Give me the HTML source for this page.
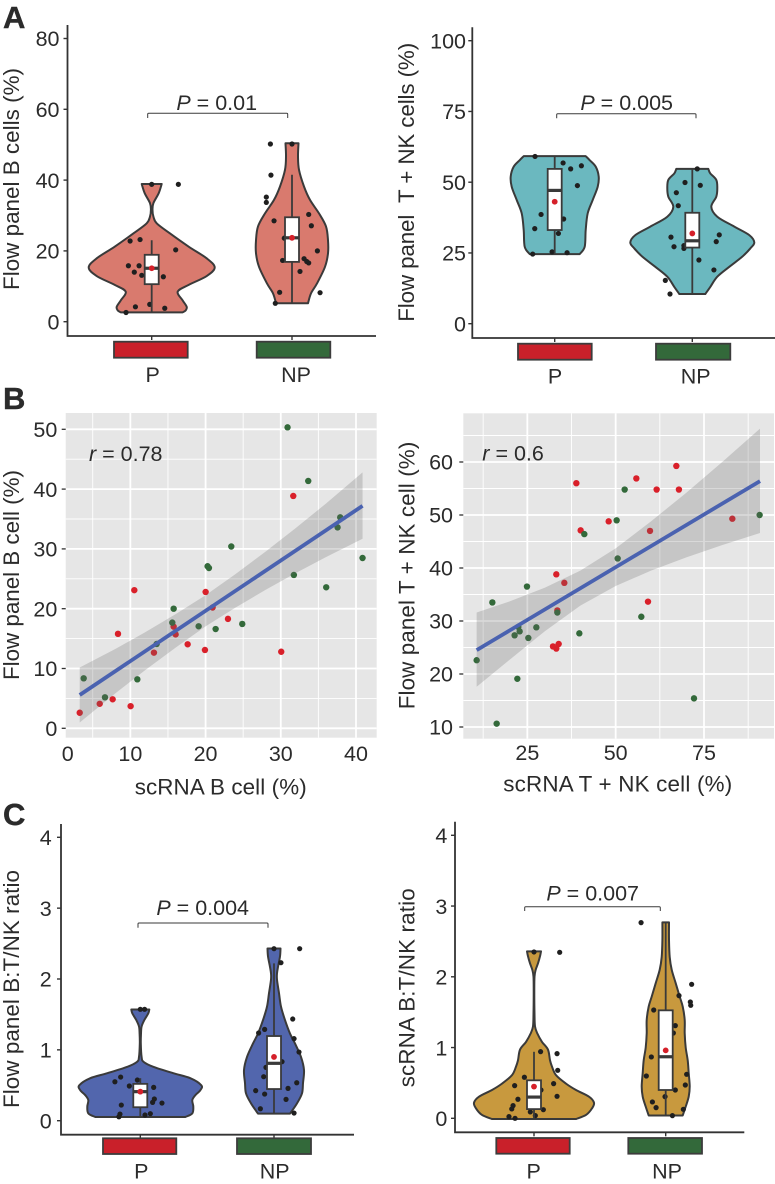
<!DOCTYPE html>
<html lang="en">
<head>
<meta charset="utf-8">
<title>Flow panel and scRNA comparison</title>
<style>
html,body{margin:0;padding:0;background:#fff}
svg{display:block;font-family:"Liberation Sans",Arial,sans-serif;fill:#2b2b2b}
text{fill:#2b2b2b}
.t{font-size:21.5px}
.tt{font-size:22.4px}
.letter{font-size:31px;font-weight:bold;fill:#2b2b2b;stroke:#2b2b2b;stroke-width:.4}
.br{fill:none;stroke:#3a3a3a;stroke-width:1}
.cb{stroke:#3c3c3c;stroke-width:1.8}
</style>
</head>
<body>
<svg id="figure" xmlns="http://www.w3.org/2000/svg" width="775" height="1184" viewBox="0 0 775 1184">
<rect x="0" y="0" width="775" height="1184" fill="#fff"/>
<g id="plots"></g>

<text class="letter" x="3" y="28">A</text>
<text class="letter" x="3" y="409">B</text>
<text class="letter" x="3" y="825">C</text>

<!-- A left -->
<text class="tt" transform="translate(19,179) rotate(-90)" text-anchor="middle" textLength="222">Flow panel B cells (%)</text>
<path class="br" d="M147.7 118V114.3Q147.7 113.3 148.7 113.3H286.7Q287.7 113.3 287.7 114.3V118"/>
<text class="t" x="216.7" y="110" text-anchor="middle"><tspan font-style="italic">P</tspan> = 0.01</text>
<rect class="cb" x="114" y="341.7" width="73.7" height="16" fill="#c9202a"/>
<rect class="cb" x="256.7" y="341.7" width="73.6" height="16" fill="#33693a"/>
<text class="t" x="152.7" y="382" text-anchor="middle">P</text>
<text class="t" x="296" y="382" text-anchor="middle">NP</text>

<!-- A right -->
<text class="tt" transform="translate(414,182.3) rotate(-90)" text-anchor="middle" textLength="279" xml:space="preserve">Flow panel  T + NK cells (%)</text>
<path class="br" d="M556.7 118.3V114.7Q556.7 113.7 557.7 113.7H695Q696 113.7 696 114.7V118.3"/>
<text class="t" x="626.7" y="110" text-anchor="middle"><tspan font-style="italic">P</tspan> = 0.005</text>
<rect class="cb" x="518" y="343.7" width="73.7" height="16" fill="#c9202a"/>
<rect class="cb" x="656" y="343.7" width="74.3" height="16" fill="#33693a"/>
<text class="t" x="555" y="383.3" text-anchor="middle">P</text>
<text class="t" x="695.7" y="383.3" text-anchor="middle">NP</text>

<!-- B left -->
<text class="tt" transform="translate(19,575) rotate(-90)" text-anchor="middle" textLength="210">Flow panel B cell (%)</text>
<text class="tt" x="220.7" y="794.3" text-anchor="middle" textLength="172">scRNA B cell (%)</text>
<text class="t" x="89" y="461"><tspan font-style="italic">r</tspan> = 0.78</text>
<text class="t" x="67.7" y="761" text-anchor="middle">0</text>

<!-- B right -->
<text class="tt" transform="translate(414.3,575.5) rotate(-90)" text-anchor="middle" textLength="267.6">Flow panel T + NK cell (%)</text>
<text class="tt" x="617.7" y="791.7" text-anchor="middle" textLength="229">scRNA T + NK cell (%)</text>
<text class="t" x="482.3" y="460.7"><tspan font-style="italic">r</tspan> = 0.6</text>

<!-- C left -->
<text class="tt" transform="translate(19,989) rotate(-90)" text-anchor="middle" textLength="238">Flow panel B:T/NK ratio</text>
<path class="br" d="M138 927.7V924Q138 923 139 923H267Q268 923 268 924V927.7"/>
<text class="t" x="202.7" y="915" text-anchor="middle"><tspan font-style="italic">P</tspan> = 0.004</text>
<rect class="cb" x="103" y="1138.3" width="73.3" height="15.7" fill="#c9202a"/>
<rect class="cb" x="237" y="1138.3" width="74" height="15.7" fill="#33693a"/>
<text class="t" x="141.3" y="1178.7" text-anchor="middle">P</text>
<text class="t" x="274.7" y="1178.7" text-anchor="middle">NP</text>

<!-- C right -->
<text class="tt" transform="translate(414.3,987.8) rotate(-90)" text-anchor="middle" textLength="199">scRNA B:T/NK ratio</text>
<path class="br" d="M524.7 911V907.7Q524.7 906.7 525.7 906.7H659.3Q660.3 906.7 660.3 907.7V911"/>
<text class="t" x="592.7" y="900.7" text-anchor="middle"><tspan font-style="italic">P</tspan> = 0.007</text>
<rect class="cb" x="496.3" y="1138" width="73.4" height="15.7" fill="#c9202a"/>
<rect class="cb" x="628.3" y="1138" width="73.7" height="15.7" fill="#33693a"/>
<text class="t" x="533.7" y="1178.3" text-anchor="middle">P</text>
<text class="t" x="667" y="1178.3" text-anchor="middle">NP</text>
</svg>

<script>
/* ---------- panel A left: violin profiles are [value, density] ---------- */
const a1Ticks = [0, 20, 40, 60, 80];
const a1PProfile = [[2.64,31],[3.2,34],[4.2,35],[6,31],[8.5,26],[10.4,37],[12.9,55],[15.3,63],[17.9,55],[21.2,37],[25,18],[27.8,5],[29.7,1.7],[31.6,0.8],[33.5,1.7],[36.3,7],[38.9,10]];
const a1NPProfile = [[5.2,16],[8,19],[10.8,25],[15.5,33],[19.3,36],[23,36],[26.9,34],[30.6,27],[34.4,18],[38.2,12],[42.9,7],[46.7,6],[50.4,6.5]];
const a1PBox = [2.6, 10.6, 15.1, 18.9, 23, 15.1];
const a1NPBox = [5.2, 16.9, 23.7, 29.5, 41.5, 23.7];
const a1PPoints = [[-0.183,2.6],[-0.116,4.2],[-0.014,4.9],[0.093,3.8],[-0.09,15.8],[-0.166,15.8],[-0.124,14],[-0.071,13.1],[0.083,12.7],[0.171,20.3],[-0.154,22.8],[-0.083,23.2],[0,38.8],[0.19,38.8]];
const a1NPPoints = [[-0.154,50.2],[0,50.2],[-0.15,41.4],[-0.183,35.2],[-0.183,33.7],[-0.128,28.5],[0.119,30.3],[0.138,27.1],[-0.055,23.6],[0.181,20],[-0.067,17.3],[0.086,17.8],[0.105,17],[0.119,16.6],[0.057,14.2],[-0.088,8.3],[0.2,8.2],[-0.119,5.2]];

/* ---------- panel A right ---------- */
const a2Ticks = [0, 25, 50, 75, 100];
const a2PProfile = [[24.6,25],[27.2,30],[33.1,31],[39,33],[43.7,38],[48.4,43],[52,44],[55.5,41],[57.8,35],[59.2,31]];
const a2NPProfile = [[10.5,13],[13,18],[16.6,25],[20.1,37],[23.7,50],[26.6,58],[28.7,62],[31.3,57],[34.3,42],[37.8,25],[41.3,19],[44.9,24],[47.8,25],[50.8,24],[53.1,18],[54.7,16]];
const a2PBox = [24.6, 33.1, 47.1, 54.7, 59.2, 43.1];
const a2NPBox = [10.5, 26.9, 29.3, 39.2, 54.7, 31.9];
const a2PPoints = [[-0.143,59.1],[0.061,56.8],[0.116,54.7],[0.194,55.8],[0.165,48.8],[-0.099,38.6],[0.065,37],[-0.145,33.6],[0.027,31.9],[-0.019,25.4],[-0.16,24.6],[0.09,25.1]];
const a2NPPoints = [[0.036,54.7],[-0.053,49.9],[0.058,48.9],[-0.116,46.3],[-0.102,41.7],[-0.155,30.6],[0.196,31.4],[0.174,29],[-0.133,27.2],[-0.061,27.6],[-0.061,26.6],[0.048,22.5],[0.157,19],[-0.196,15.3],[-0.162,10.5]];

/* ---------- panel B left ---------- */
const b1XTicks = [10, 20, 30, 40];
const b1XMinor = [5, 15, 25, 35];
const b1YTicks = [0, 10, 20, 30, 40, 50];
const b1YMinor = [5, 15, 25, 35, 45];
const b1Red = [[3.27,2.6],[5.93,4.1],[7.65,4.85],[10.04,3.7],[8.36,15.8],[10.53,23.1],[13.14,12.65],[15.76,17],[16.02,15.7],[17.62,14.05],[19.92,13.1],[20.01,22.8],[20.94,20.2],[22.98,18.3],[30.06,12.8],[31.66,38.85]];
const b1Green = [[3.8,8.36],[6.63,5.18],[10.93,8.19],[13.5,14.1],[15.58,17.67],[15.76,20],[19.08,17.06],[21.34,16.6],[20.27,27.1],[20.45,26.8],[23.42,30.4],[24.88,17.45],[30.9,50.33],[31.74,25.64],[33.65,41.36],[36.04,23.58],[37.55,33.6],[37.9,35.28],[40.87,28.48]];
const b1Fit = [[3.27,5.57],[40.87,37.2]];
const b1BandX = [3.27, 8, 12, 16, 20, 24, 28, 32, 36, 40.87];
const b1BandLow = [0.97, 5.85, 9.74, 13.48, 17.04, 20.2, 23.17, 25.96, 28.63, 31.7];
const b1BandHigh = [10.17, 13.25, 16.08, 19.08, 22.24, 25.8, 29.57, 33.5, 37.57, 42.8];

/* ---------- panel B right ---------- */
const b2XTicks = [25, 50, 75];
const b2XMinor = [12.5, 37.5, 62.5, 87.5];
const b2YTicks = [10, 20, 30, 40, 50, 60];
const b2YMinor = [15, 25, 35, 45, 55, 65];
const b2Red = [[67.17,59.25],[55.85,56.9],[61.6,54.8],[67.9,54.8],[38.87,56],[48.02,48.8],[40.09,47.1],[83.02,49.3],[59.72,47],[33.2,38.8],[35.47,37.2],[59.15,33.65],[33.49,32],[32.26,25.2],[33.87,25.66],[33.2,24.8]];
const b2Green = [[52.55,54.8],[50.28,49],[41.13,46.4],[90.75,50],[50.57,41.8],[24.9,36.5],[15.1,33.5],[33.49,31.6],[57.26,30.8],[27.55,28.8],[21.4,27.3],[22.83,28.05],[22.45,28.9],[25.28,26.8],[39.72,27.67],[10.66,22.6],[22.17,19.1],[72.17,15.4],[16.32,10.63]];
const b2Fit = [[10.66,24.5],[90.85,56.4]];
const b2BandX = [10.66, 20, 30, 40, 50, 60, 70, 80, 90.85];
const b2BandLow = [17.6, 22.7, 28.1, 32.9, 36.6, 39.5, 42, 44.3, 46.6];
const b2BandHigh = [31.6, 33.7, 36.3, 39.5, 43.7, 48.8, 54.2, 59.9, 66.3];

/* ---------- panel C left ---------- */
const c1Ticks = [0, 1, 2, 3, 4];
const c1PProfile = [[0.052,45],[0.104,52],[0.198,53],[0.29,52],[0.36,55],[0.43,60],[0.5,61],[0.6,50],[0.67,33],[0.76,13],[0.83,3.3],[0.9,1.3],[1.09,0.5],[1.23,0.7],[1.33,1.3],[1.42,4],[1.515,8],[1.57,9]];
const c1NPProfile = [[0.1,16],[0.245,23],[0.386,28],[0.53,29],[0.715,30],[0.9,27],[1.09,21],[1.23,16],[1.42,11],[1.61,7],[1.8,5],[1.99,3],[2.08,3],[2.17,4],[2.32,6],[2.43,6.5]];
const c1PBox = [0.05, 0.19, 0.41, 0.52, 0.6, 0.41];
const c1NPBox = [0.1, 0.447, 0.81, 1.195, 2.22, 0.9];
const c1PPoints = [[0,1.572],[0.032,1.572],[-0.147,0.616],[-0.19,0.55],[-0.082,0.49],[-0.022,0.574],[0.1,0.47],[0.105,0.306],[0.092,0.259],[0.162,0.249],[-0.142,0.221],[-0.152,0.094],[-0.16,0.056],[0.035,0.08],[0.075,0.099]];
const c1NPPoints = [[0,2.428],[0.192,2.428],[0.052,2.23],[0.14,1.435],[-0.07,1.289],[-0.115,1.238],[0.15,1.158],[0.187,0.969],[0.06,0.833],[-0.06,0.753],[-0.077,0.621],[0.17,0.536],[0.105,0.456],[-0.137,0.424],[-0.07,0.376],[0.09,0.301],[-0.102,0.169],[0.15,0.108]];

/* ---------- panel C right ---------- */
const c2Ticks = [0, 1, 2, 3, 4];
const c2PProfile = [[-0.01,42],[0.047,52],[0.14,58],[0.22,60],[0.306,55],[0.4,42],[0.49,32],[0.61,22],[0.73,18],[0.82,16],[0.97,14],[1.08,8],[1.2,3.3],[1.3,1],[1.48,0.5],[1.77,0.3],[2,0.5],[2.1,1.7],[2.19,4],[2.29,6],[2.36,7]];
const c2NPProfile = [[0.04,17],[0.165,20],[0.306,23],[0.45,24],[0.64,23],[0.82,22],[1,20],[1.2,19],[1.39,19],[1.58,17],[1.72,14],[1.91,10],[2.1,6],[2.28,4],[2.52,3.3],[2.77,3.3]];
const c2PBox = [0, 0.13, 0.3, 0.537, 0.94, 0.448];
const c2NPBox = [0.04, 0.4, 0.87, 1.526, 2.77, 0.96];
const c2PPoints = [[0,2.351],[0.195,2.346],[0.05,0.942],[0.175,0.914],[0.18,0.678],[-0.073,0.58],[-0.147,0.462],[0.149,0.49],[0.053,0.4],[0.175,0.311],[-0.122,0.269],[-0.159,0.179],[-0.169,0.132],[0.071,0.122],[-0.028,0.09],[0.01,0.038],[-0.19,0.024],[-0.144,0]];
const c2NPPoints = [[-0.187,2.766],[0.197,1.894],[0.187,1.644],[0.19,1.597],[0.101,1.734],[-0.091,1.531],[0.073,1.31],[0.058,1.206],[-0.109,0.867],[-0.147,0.598],[0.159,0.622],[0.149,0.471],[0.073,0.4],[-0.005,0.306],[-0.101,0.231],[-0.073,0.151],[0.134,0.127],[0.051,0.038]];

/* ---------- drawing ---------- */
const NS = 'http://www.w3.org/2000/svg';
const root = document.getElementById('plots');
const INK = '#3a3a3a';

function mk(tag, parent, attrs) {
  const el = document.createElementNS(NS, tag);
  for (const k in attrs) el.setAttribute(k, attrs[k]);
  parent.appendChild(el);
  return el;
}
function linear(d0, d1, r0, r1) {
  return v => r0 + (v - d0) * (r1 - r0) / (d1 - d0);
}
function smooth(pts) {
  let d = '';
  for (let i = 0; i < pts.length - 1; i++) {
    const p0 = pts[Math.max(i - 1, 0)], p1 = pts[i], p2 = pts[i + 1], p3 = pts[Math.min(i + 2, pts.length - 1)];
    const c1x = p1[0] + (p2[0] - p0[0]) / 6, c1y = p1[1] + (p2[1] - p0[1]) / 6;
    const c2x = p2[0] - (p3[0] - p1[0]) / 6, c2y = p2[1] - (p3[1] - p1[1]) / 6;
    d += 'C' + c1x.toFixed(2) + ' ' + c1y.toFixed(2) + ' ' + c2x.toFixed(2) + ' ' + c2y.toFixed(2) + ' ' + p2[0].toFixed(2) + ' ' + p2[1].toFixed(2);
  }
  return d;
}

function drawViolinGroup(g, prefix, cx, unit, y, profile, box, points, fill) {
  const right = profile.map(p => [cx + p[1], y(p[0])]);
  const left = profile.map(p => [cx - p[1], y(p[0])]).reverse();
  const d = 'M' + right[0][0].toFixed(2) + ' ' + right[0][1].toFixed(2) + smooth(right) +
            'L' + left[0][0].toFixed(2) + ' ' + left[0][1].toFixed(2) + smooth(left) + 'Z';
  const violin = mk('path', g, {d: d, fill: fill, stroke: INK, 'stroke-width': 2, 'stroke-linejoin': 'round'});
  
  

  points.forEach(p => {
    const dot = mk('circle', g, {cx: cx + p[0] * unit, cy: y(p[1]), r: 2.6, fill: '#1f1f1f'});
    
    
  });

  const whisker = mk('line', g, {x1: cx, x2: cx, y1: y(box[0]), y2: y(box[4]), stroke: INK, 'stroke-width': 1.8});
  
  

  const boxRect = mk('rect', g, {x: cx - 7, width: 14, y: y(box[3]), height: y(box[1]) - y(box[3]), fill: '#fff', stroke: INK, 'stroke-width': 1.8});
  
  

  const median = mk('line', g, {x1: cx - 7, x2: cx + 7, y1: y(box[2]), y2: y(box[2]), stroke: INK, 'stroke-width': 3.2});
  
  

  const mean = mk('circle', g, {cx: cx, cy: y(box[5]), r: 2.9, fill: '#d5202a'});
  
  
}

function drawViolinPanel(o) {
  const g = mk('g', root, {});
  
  
  const y = linear(o.yD0, o.yD1, o.yR0, o.yR1);
  const unit = o.xNP - o.xP;

  const yAxis = mk('path', g, {d: 'M' + o.axisX + ' ' + o.axisTop + 'V' + o.axisBottom + 'H' + o.axisRight, fill: 'none', stroke: '#333', 'stroke-width': 1.8});
  
  

  o.ticks.forEach(t => {
    const tick = mk('line', g, {x1: o.axisX - 4, x2: o.axisX, y1: y(t), y2: y(t), stroke: '#333', 'stroke-width': 1.4});
    
    
    const label = mk('text', g, {x: o.labelRight, y: y(t) + 7.7, 'text-anchor': 'end', class: 't'});
    label.textContent = String(t);
    
    
  });
  [o.xP, o.xNP].forEach(x => {
    const tick = mk('line', g, {x1: x, x2: x, y1: o.axisBottom, y2: o.axisBottom + 4, stroke: '#333', 'stroke-width': 1.4});
    
    
  });
  drawViolinGroup(g, o.name + '-p', o.xP, unit, y, o.pProfile, o.pBox, o.pPoints, o.fill);
  drawViolinGroup(g, o.name + '-np', o.xNP, unit, y, o.npProfile, o.npBox, o.npPoints, o.fill);
}

function drawScatterPanel(o) {
  const g = mk('g', root, {});
  
  
  const x = linear(o.xD0, o.xD1, o.xR0, o.xR1);
  const y = linear(o.yD0, o.yD1, o.yR0, o.yR1);

  const bg = mk('rect', g, {x: o.left, y: o.top, width: o.right - o.left, height: o.bottom - o.top, fill: '#e6e6e6'});
  
  

  o.xMinor.forEach(v => {
    const line = mk('line', g, {x1: x(v), x2: x(v), y1: o.top, y2: o.bottom, stroke: '#fff', 'stroke-width': 0.9});
    
    
  });
  o.yMinor.forEach(v => {
    const line = mk('line', g, {x1: o.left, x2: o.right, y1: y(v), y2: y(v), stroke: '#fff', 'stroke-width': 0.9});
    
    
  });
  o.xTicks.forEach(v => {
    const line = mk('line', g, {x1: x(v), x2: x(v), y1: o.top, y2: o.bottom, stroke: '#fff', 'stroke-width': 1.8});
    
    
    const label = mk('text', g, {x: x(v), y: o.xLabelY, 'text-anchor': 'middle', class: 't'});
    label.textContent = String(v);
    
    
  });
  o.yTicks.forEach(v => {
    const line = mk('line', g, {x1: o.left, x2: o.right, y1: y(v), y2: y(v), stroke: '#fff', 'stroke-width': 1.8});
    
    
    const tick = mk('line', g, {x1: o.left - 4, x2: o.left, y1: y(v), y2: y(v), stroke: '#333', 'stroke-width': 1.3});
    
    
    const label = mk('text', g, {x: o.labelRight, y: y(v) + 7.7, 'text-anchor': 'end', class: 't'});
    label.textContent = String(v);
    
    
  });

  o.red.forEach(p => {
    const dot = mk('circle', g, {cx: x(p[0]), cy: y(p[1]), r: 3.2, fill: '#d9202a'});
    
    
  });
  o.green.forEach(p => {
    const dot = mk('circle', g, {cx: x(p[0]), cy: y(p[1]), r: 3.2, fill: '#33693a'});
    
    
  });

  let d = '';
  o.bandX.forEach((v, i) => { d += (i ? 'L' : 'M') + x(v).toFixed(2) + ' ' + y(o.bandHigh[i]).toFixed(2); });
  for (let i = o.bandX.length - 1; i >= 0; i--) d += 'L' + x(o.bandX[i]).toFixed(2) + ' ' + y(o.bandLow[i]).toFixed(2);
  const band = mk('path', g, {d: d + 'Z', fill: '#666', 'fill-opacity': 0.25});
  
  

  const fit = mk('line', g, {x1: x(o.fit[0][0]), y1: y(o.fit[0][1]), x2: x(o.fit[1][0]), y2: y(o.fit[1][1]), stroke: '#4a62b0', 'stroke-width': 3.8});
  
  
}

drawViolinPanel({name: 'a1', ticks: a1Ticks, yD0: 0, yD1: 80, yR0: 321.7, yR1: 38.5, axisX: 67.5, axisTop: 25, axisBottom: 336, axisRight: 376, labelRight: 59.5, xP: 151.7, xNP: 292, fill: '#d97a6e',
  pProfile: a1PProfile, npProfile: a1NPProfile, pBox: a1PBox, npBox: a1NPBox, pPoints: a1PPoints, npPoints: a1NPPoints});
drawViolinPanel({name: 'a2', ticks: a2Ticks, yD0: 0, yD1: 100, yR0: 323.7, yR1: 40.7, axisX: 472.3, axisTop: 27.3, axisBottom: 338, axisRight: 775, labelRight: 466, xP: 554.7, xNP: 692.3, fill: '#6bb8bf',
  pProfile: a2PProfile, npProfile: a2NPProfile, pBox: a2PBox, npBox: a2NPBox, pPoints: a2PPoints, npPoints: a2NPPoints});
drawScatterPanel({name: 'b1', left: 65.7, right: 376.7, top: 413, bottom: 737.7, labelRight: 57.3, xLabelY: 761,
  xD0: 10, xD1: 40, xR0: 130.33, xR1: 356, yD0: 0, yD1: 50, yR0: 728.3, yR1: 429.3,
  xTicks: b1XTicks, xMinor: b1XMinor, yTicks: b1YTicks, yMinor: b1YMinor, red: b1Red, green: b1Green, fit: b1Fit, bandX: b1BandX, bandLow: b1BandLow, bandHigh: b1BandHigh});
drawScatterPanel({name: 'b2', left: 463.3, right: 774, top: 413.3, bottom: 738.7, labelRight: 453, xLabelY: 760,
  xD0: 25, xD1: 75, xR0: 527.33, xR1: 704, yD0: 10, yD1: 60, yR0: 727, yR1: 462,
  xTicks: b2XTicks, xMinor: b2XMinor, yTicks: b2YTicks, yMinor: b2YMinor, red: b2Red, green: b2Green, fit: b2Fit, bandX: b2BandX, bandLow: b2BandLow, bandHigh: b2BandHigh});
drawViolinPanel({name: 'c1', ticks: c1Ticks, yD0: 0, yD1: 4, yR0: 1120.7, yR1: 837.3, axisX: 61, axisTop: 824, axisBottom: 1134.7, axisRight: 354, labelRight: 51.7, xP: 140.3, xNP: 274, fill: '#5266ad',
  pProfile: c1PProfile, npProfile: c1NPProfile, pBox: c1PBox, npBox: c1NPBox, pPoints: c1PPoints, npPoints: c1NPPoints});
drawViolinPanel({name: 'c2', ticks: c2Ticks, yD0: 0, yD1: 4, yR0: 1118.3, yR1: 835.3, axisX: 455, axisTop: 821.7, axisBottom: 1132.3, axisRight: 744.3, labelRight: 447.3, xP: 534, xNP: 665.7, fill: '#c8993e',
  pProfile: c2PProfile, npProfile: c2NPProfile, pBox: c2PBox, npBox: c2NPBox, pPoints: c2PPoints, npPoints: c2NPPoints});
</script>
</body>
</html>
